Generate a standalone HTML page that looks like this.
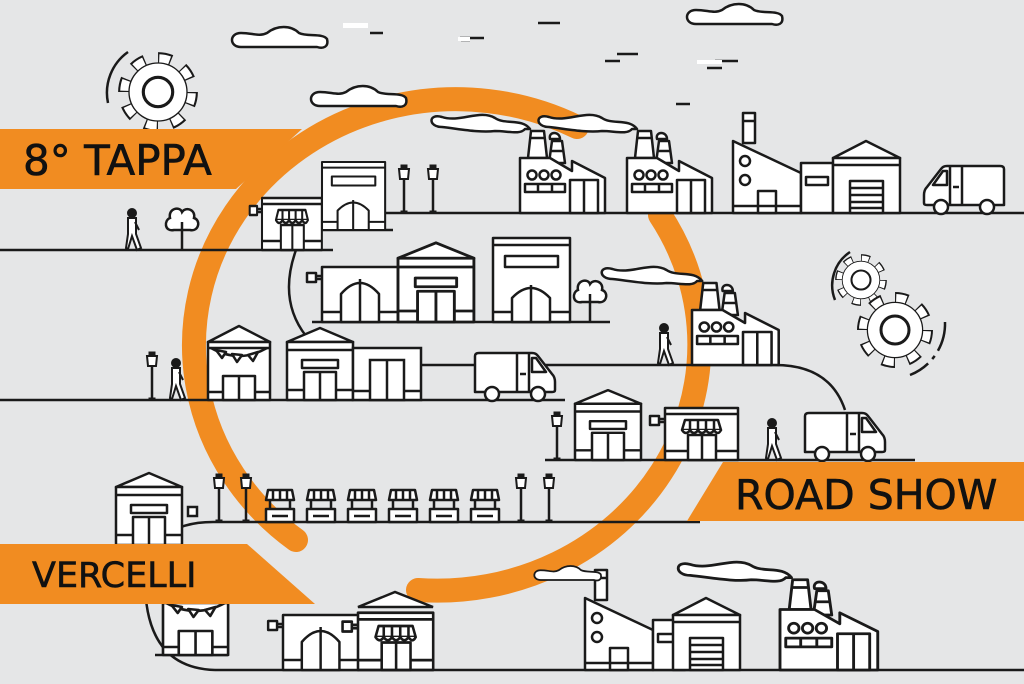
<!DOCTYPE html>
<html><head><meta charset="utf-8"><style>
html,body{margin:0;padding:0;background:#e5e6e7;}
svg{display:block}
text{font-family:"DejaVu Sans","Liberation Sans",sans-serif;fill:#111;stroke:#111;stroke-width:0.6;}
</style></head><body>
<svg width="1024" height="684" viewBox="0 0 1024 684" xmlns="http://www.w3.org/2000/svg">
<defs>
<g id="fac" stroke="#1a1a1a" stroke-width="2.5" fill="#fff" stroke-linejoin="round">
 <polygon points="8,-55 11,-82 24,-82 27,-55"/><line x1="10" y1="-75" x2="25" y2="-75"/>
 <polygon points="29,-50 32,-72 42,-72 45,-50"/><line x1="31" y1="-62" x2="43" y2="-62"/>
 <polygon points="0,0 0,-55 30,-55 52,-42 52,-52 85,-35 85,0"/>
 <circle cx="12" cy="-38" r="4.5"/><circle cx="24" cy="-38" r="4.5"/><circle cx="36" cy="-38" r="4.5"/>
 <rect x="5" y="-29" width="40" height="8"/><line x1="18" y1="-29" x2="18" y2="-21"/><line x1="32" y1="-29" x2="32" y2="-21"/>
 <rect x="50" y="-33" width="28" height="33"/><line x1="64" y1="-33" x2="64" y2="0"/>
 <path d="M10,-84 C2,-95 -15,-88 -25,-95 C-40,-104 -60,-90 -78,-96 C-92,-100 -92,-86 -78,-86 C-60,-84 -40,-80 -25,-82 C-12,-82 0,-78 5,-84 Z" />
 <path d="M30,-74 C28,-82 40,-82 40,-74 Z"/>
</g>
<g id="kiln" stroke="#1a1a1a" stroke-width="2.5" fill="#fff" stroke-linejoin="round">
 <rect x="10" y="-100" width="12" height="30"/><line x1="10" y1="-92" x2="22" y2="-92"/>
 <polygon points="0,0 0,-72 68,-40 68,0"/>
 <circle cx="12" cy="-52" r="5"/><circle cx="12" cy="-33" r="5"/>
 <rect x="25" y="-22" width="18" height="22"/><line x1="0" y1="-7" x2="68" y2="-7"/>
 <rect x="68" y="-50" width="32" height="50"/><rect x="73" y="-36" width="22" height="8"/>
</g>
<g id="wh" stroke="#1a1a1a" stroke-width="2.5" fill="#fff" stroke-linejoin="round">
 <polygon points="0,-55 33,-72 67,-55"/>
 <rect x="0" y="-55" width="67" height="55"/><line x1="0" y1="-48" x2="67" y2="-48"/>
 <rect x="17" y="-32" width="33" height="32"/>
 <line x1="17" y1="-25" x2="50" y2="-25"/><line x1="17" y1="-18" x2="50" y2="-18"/><line x1="17" y1="-11" x2="50" y2="-11"/><line x1="17" y1="-5" x2="50" y2="-5"/>
</g>
<g id="shop" stroke="#1a1a1a" stroke-width="2.5" fill="#fff" stroke-linejoin="round">
 <rect x="0" y="-52" width="73" height="52"/><line x1="0" y1="-46" x2="73" y2="-46"/>
 <line x1="0" y1="-9" x2="73" y2="-9"/>
 <path d="M17,-30 L20,-40 L53,-40 L56,-30 Z"/>
 <path d="M17,-30 q4,6 8,0 q4,6 8,0 q4,6 8,0 q4,6 8,0 q4,6 7,0" />
 <line x1="25" y1="-40" x2="25" y2="-30"/><line x1="33" y1="-40" x2="33" y2="-30"/><line x1="41" y1="-40" x2="41" y2="-30"/><line x1="49" y1="-40" x2="49" y2="-30"/>
 <rect x="23" y="-25" width="28" height="25"/><line x1="37" y1="-25" x2="37" y2="0"/>
 <rect x="-15" y="-44" width="9" height="9"/><line x1="-6" y1="-41" x2="0" y2="-41"/><line x1="-6" y1="-38" x2="0" y2="-38"/>
</g>
<g id="house" stroke="#1a1a1a" stroke-width="2.5" fill="#fff" stroke-linejoin="round">
 <polygon points="0,-58 33,-72 66,-58"/>
 <rect x="0" y="-58" width="66" height="58"/><line x1="0" y1="-50" x2="66" y2="-50"/>
 <line x1="0" y1="-10" x2="66" y2="-10"/>
 <rect x="15" y="-40" width="36" height="8"/>
 <rect x="17" y="-28" width="32" height="28"/><line x1="33" y1="-28" x2="33" y2="0"/>
</g>
<g id="tent" stroke="#1a1a1a" stroke-width="2.5" fill="#fff" stroke-linejoin="round">
 <polygon points="0,-58 31,-74 62,-58"/>
 <rect x="0" y="-58" width="62" height="58"/><line x1="0" y1="-52" x2="62" y2="-52"/>
 <path d="M3,-52 Q31,-36 59,-52" fill="none"/>
 <polygon points="8,-50 14,-42 18,-48" fill="#fff"/><polygon points="24,-46 29,-38 34,-45"/><polygon points="40,-45 45,-39 50,-48"/>
 <line x1="0" y1="-8" x2="62" y2="-8"/>
 <rect x="15" y="-24" width="32" height="24"/><line x1="31" y1="-24" x2="31" y2="0"/>
</g>
<g id="arch" stroke="#1a1a1a" stroke-width="2.5" fill="#fff" stroke-linejoin="round">
 <rect x="0" y="-55" width="76" height="55"/><line x1="0" y1="-10" x2="76" y2="-10"/>
 <path d="M19,0 L19,-28 Q38,-50 57,-28 L57,0 Z"/><line x1="38" y1="-43" x2="38" y2="0"/>
 <rect x="-15" y="-49" width="9" height="9"/><line x1="-6" y1="-46" x2="0" y2="-46"/><line x1="-6" y1="-43" x2="0" y2="-43"/>
</g>
<g id="tall" stroke="#1a1a1a" stroke-width="2.5" fill="#fff" stroke-linejoin="round">
 <rect x="0" y="-84" width="77" height="84"/><line x1="0" y1="-77" x2="77" y2="-77"/>
 <rect x="12" y="-66" width="53" height="11"/><line x1="0" y1="-10" x2="77" y2="-10"/>
 <path d="M19,0 L19,-24 Q38,-44 57,-24 L57,0 Z"/><line x1="38" y1="-37" x2="38" y2="0"/>
</g>
<g id="van" stroke="#1a1a1a" stroke-width="2.5" fill="#fff" stroke-linejoin="round">
 <path d="M3,-8 L3,-44 Q3,-47 7,-47 L60,-47 Q64,-47 66,-44 L80,-26 Q83,-23 83,-18 L83,-10 Q83,-8 80,-8 Z"/>
 <path d="M60,-42 L64,-42 L74,-28 L60,-28 Z"/>
 <line x1="45" y1="-47" x2="45" y2="-8"/><line x1="57" y1="-47" x2="57" y2="-8"/>
 <line x1="48" y1="-26" x2="54" y2="-26"/>
 <circle cx="20" cy="-6" r="7"/><circle cx="66" cy="-6" r="7"/>
</g>
<g id="lamp" stroke="#1a1a1a" fill="#1a1a1a">
 <line x1="0" y1="0" x2="0" y2="-34" stroke-width="2.5"/>
 <path d="M-5,-44 L5,-44 L4,-34 L-4,-34 Z" fill="#fff" stroke-width="2"/>
 <rect x="-3" y="-48" width="6" height="4"/><rect x="-3" y="-2" width="6" height="2"/>
</g>
<g id="man" stroke="#1a1a1a" stroke-width="2" fill="#fff">
 <circle cx="0" cy="-37" r="4" fill="#1a1a1a"/>
 <path d="M-4,-32 L4,-32 L4,-16 L9,-2 L5,0 L0,-14 L-4,-1 L-6,-2 L-4,-16 Z"/>
 <line x1="3" y1="-28" x2="7" y2="-20"/>
</g>
<g id="tree" stroke="#1a1a1a" stroke-width="2.5" fill="#fff">
 <line x1="0" y1="0" x2="0" y2="-20"/>
 <path d="M-8,-20 C-18,-18 -18,-30 -12,-32 C-14,-42 -2,-44 0,-38 C4,-44 14,-40 12,-32 C19,-30 17,-18 8,-20 Z"/>
 <line x1="0" y1="-20" x2="0" y2="-28"/>
</g>
<g id="stall" stroke="#1a1a1a" stroke-width="2.5" fill="#fff" stroke-linejoin="round">
 <rect x="2" y="-13" width="28" height="13"/><line x1="8" y1="-6" x2="24" y2="-6"/>
 <path d="M2,-22 L4,-32 L28,-32 L30,-22 Z"/>
 <line x1="9" y1="-32" x2="9" y2="-22"/><line x1="16" y1="-32" x2="16" y2="-22"/><line x1="23" y1="-32" x2="23" y2="-22"/>
 <line x1="6" y1="-22" x2="6" y2="-13"/><line x1="26" y1="-22" x2="26" y2="-13"/>
</g>
<g id="cloud" stroke="#1a1a1a" stroke-width="2.5" fill="#fff">
 <path d="M8,0 C-4,0 -4,-14 8,-14 C20,-14 26,-10 34,-14 C44,-22 58,-22 66,-14 C74,-10 90,-14 94,-8 C96,0 90,2 84,0 Z"/>
</g>
<g id="gear" stroke="#1a1a1a">
 <circle r="32" fill="none" stroke-width="12" stroke-dasharray="12.5 12.6"/>
 <circle r="32" fill="none" stroke="#fff" stroke-width="8" stroke-dasharray="10 15.1" stroke-dashoffset="-1.2"/>
 <circle r="27" fill="#fff" stroke-width="2.5"/>
 <circle r="27" fill="#fff" stroke="none"/>
 <circle r="14" fill="#fff" stroke-width="3"/>
</g>
</defs>

<g fill="none" stroke="#f18c21" stroke-width="24" stroke-linecap="round">
 <path d="M577,127 A262,246 0 0 0 296,540"/>
 <path d="M418,590 A262,246 0 0 0 660,215"/>
</g>

<g stroke="#1a1a1a" stroke-width="2.5">
 <line x1="538" y1="23" x2="560" y2="23"/><line x1="617" y1="54" x2="638" y2="54"/><line x1="605" y1="61" x2="620" y2="61"/>
 <line x1="715" y1="61" x2="738" y2="61"/><line x1="707" y1="68" x2="722" y2="68"/><line x1="676" y1="104" x2="690" y2="104"/>
 <line x1="370" y1="33" x2="383" y2="33"/><line x1="460" y1="38" x2="484" y2="38"/><line x1="461" y1="40" x2="470" y2="40"/>
</g>
<g fill="#fff"><rect x="343" y="23" width="25" height="5"/><rect x="697" y="60" width="25" height="4"/><rect x="458" y="37" width="12" height="4"/></g>
<use href="#cloud" x="233" y="47"/>
<use href="#cloud" x="312" y="106"/>
<use href="#cloud" x="688" y="24"/>

<use href="#gear" transform="translate(158,92) scale(1.05)"/>
<path d="M108,103 A50,50 0 0 1 128,52" fill="none" stroke="#1a1a1a" stroke-width="2.5"/>
<use href="#gear" transform="translate(861,280) scale(0.68)"/>
<use href="#gear" transform="translate(895,330)"/>
<path d="M835,300 A40,40 0 0 1 850,252" fill="none" stroke="#1a1a1a" stroke-width="2.5"/>
<path d="M945,322 A55,55 0 0 1 910,375" fill="none" stroke="#1a1a1a" stroke-width="2.5" stroke-dasharray="30 6 4 6"/>

<g stroke="#1a1a1a" stroke-width="2.5" fill="none">
 <line x1="385" y1="213" x2="1024" y2="213"/>
 <line x1="0" y1="250" x2="333" y2="250"/>
 <line x1="322" y1="230" x2="393" y2="230"/>
 <path d="M296,250 Q278,300 306,336"/>
 <line x1="312" y1="322" x2="610" y2="322"/>
 <path d="M440,365 L775,365 Q830,365 845,410"/>
 <line x1="0" y1="400" x2="565" y2="400"/>
 <line x1="545" y1="460" x2="915" y2="460"/>
 <path d="M700,522 L213,522 Q150,522 145,580 Q145,668 215,670"/>
 <line x1="155" y1="655" x2="228" y2="655"/>
 <line x1="215" y1="670" x2="1024" y2="670"/>
</g>

<use href="#shop" transform="translate(262,250) scale(0.82,1)"/>
<use href="#tall" transform="translate(322,230) scale(0.82,0.81)"/>
<use href="#lamp" x="404" y="213"/><use href="#lamp" x="433" y="213"/>
<use href="#fac" x="520" y="213"/>
<use href="#fac" x="627" y="213"/>
<use href="#kiln" x="733" y="213"/>
<use href="#wh" x="833" y="213"/>
<use href="#van" transform="translate(1007,213) scale(-1,1)"/>

<use href="#man" x="132" y="250"/>
<use href="#tree" x="182" y="250"/>

<use href="#arch" x="322" y="322"/>
<use href="#house" transform="translate(398,322) scale(1.15,1.1)"/>
<use href="#tall" x="493" y="322"/>
<use href="#tree" x="590" y="322"/>

<use href="#man" x="664" y="365"/>
<use href="#fac" transform="translate(692,365) scale(1.02,1)"/>

<use href="#lamp" x="152" y="400"/>
<use href="#man" x="176" y="400"/>
<use href="#tent" x="208" y="400"/>
<use href="#house" x="287" y="400"/>
<g stroke="#1a1a1a" stroke-width="2.5" fill="#fff"><rect x="353" y="348" width="68" height="52"/><line x1="353" y1="391" x2="421" y2="391"/><rect x="370" y="360" width="34" height="40"/><line x1="387" y1="360" x2="387" y2="400"/><line x1="421" y1="365" x2="440" y2="365"/></g>
<use href="#van" x="472" y="400"/>

<use href="#lamp" x="557" y="460"/>
<use href="#house" transform="translate(575,460) scale(1,0.97)"/>
<use href="#shop" x="665" y="460"/>
<use href="#man" x="772" y="460"/>
<use href="#van" x="802" y="460"/>

<use href="#house" transform="translate(116,545)"/>
<g stroke="#1a1a1a" stroke-width="2.5" fill="#fff"><rect x="188" y="507" width="9" height="9"/></g>
<use href="#lamp" x="219" y="522"/><use href="#lamp" x="246" y="522"/>
<use href="#stall" x="264" y="522"/><use href="#stall" x="305" y="522"/><use href="#stall" x="346" y="522"/>
<use href="#stall" x="387" y="522"/><use href="#stall" x="428" y="522"/><use href="#stall" x="469" y="522"/>
<use href="#lamp" x="521" y="522"/><use href="#lamp" x="549" y="522"/>

<use href="#tent" transform="translate(163,655) scale(1.05,1)"/>
<use href="#arch" transform="translate(283,670) scale(0.99,1)"/>
<use href="#shop" transform="translate(358,670) scale(1.03,1.1)"/>
<g stroke="#1a1a1a" stroke-width="2.5" fill="#fff"><polygon points="358,607 395,592 433,607"/></g>
<use href="#kiln" x="585" y="670"/>
<use href="#wh" x="673" y="670"/>
<use href="#fac" transform="translate(780,670) scale(1.15,1.1)"/>
<use href="#cloud" transform="translate(535,580) scale(0.7)"/>

<polygon points="0,129 302,129 236,189 0,189" fill="#f18c21"/>
<text x="23" y="175" font-size="42">8° TAPPA</text>
<polygon points="723,462 1024,462 1024,521 687,521" fill="#f18c21"/>
<text x="735" y="509" font-size="41">ROAD SHOW</text>
<polygon points="0,544 247,544 315,604 0,604" fill="#f18c21"/>
<text x="32" y="587" font-size="35">VERCELLI</text>
</svg>
</body></html>
